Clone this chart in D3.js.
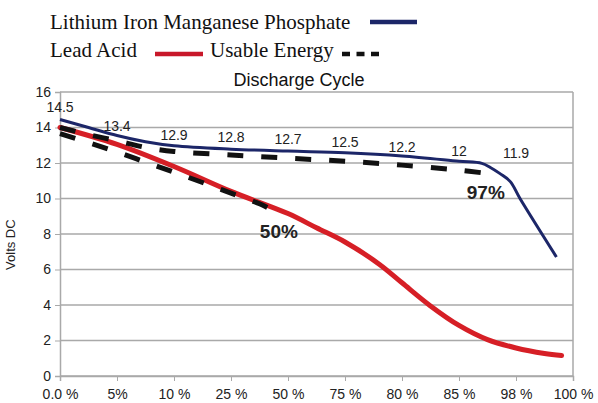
<!DOCTYPE html>
<html>
<head>
<meta charset="utf-8">
<script src="https://cdn.jsdelivr.net/npm/d3@7"></script>
<style>
  body { margin: 0; background: #fff; }
  text { font-family: Arial, "Liberation Sans", sans-serif; }
</style>
</head>
<body>
<div id="chart"></div>
<script>
// categories on the x axis (discharge %)
const xLabels = ["0.0 %", "5%", "10 %", "25 %", "50 %", "75 %", "80 %", "85 %", "98 %", "100 %"]
const yTicks = [0, 2, 4, 6, 8, 10, 12, 14, 16]

// [category index, volts]
const lithium = [[0,14.45],[0.5,14.0],[1,13.55],[1.5,13.2],[2,12.97],[3,12.78],[4,12.67],[5,12.58],[6,12.4],[7,12.1],[7.4,11.98],[7.55,11.75],[7.72,11.4],[7.9,10.95],[8.07,10.0],[8.71,6.7]]
const leadAcid = [[0,14.0],[1,13.05],[2,11.8],[3,10.4],[4,9.15],[4.5,8.35],[5,7.55],[5.6,6.3],[6,5.25],[6.5,3.95],[7,2.85],[7.5,2.05],[8,1.58],[8.5,1.27],[8.8,1.15]]
const usableLithium = [[0,14.0],[0.5,13.6],[1,13.25],[1.5,12.88],[2,12.65],[3,12.45],[4,12.27],[5,12.1],[6,11.88],[7,11.6],[7.52,11.4]]
const usableLead = [[0,13.65],[0.5,13.15],[1,12.62],[1.5,12.05],[2,11.48],[2.5,10.9],[3,10.3],[3.5,9.7],[3.85,9.15]]

// value labels over the lithium line
const pointLabels = [14.5, 13.4, 12.9, 12.8, 12.7, 12.5, 12.2, 12, 11.9]

// percent annotations: [index, volts, text]
const notes = [[3.84, 7.8, "50%"], [7.47, 10.0, "97%"]]

const margin = {top: 92, right: 25, bottom: 27, left: 60},
    width = 598 - margin.left - margin.right,
    height = 403 - margin.top - margin.bottom;

const root = d3.select("#chart")
  .append("svg")
    .attr("width", 598)
    .attr("height", 403)

const svg = root.append("g")
    .attr("transform", `translate(${margin.left},${margin.top})`);

const x = d3.scaleLinear()
  .domain([0, xLabels.length - 1])
  .range([0, width])

const y = d3.scaleLinear()
  .domain([0, 16])
  .range([height, 0])

// grid lines
svg.append("g")
  .selectAll("line")
  .data(yTicks)
  .join("line")
    .attr("x1", 0)
    .attr("x2", width)
    .attr("y1", d => y(d))
    .attr("y2", d => y(d))
    .attr("stroke", "#a9a9a9")
    .attr("stroke-width", 1.5)

// right border
svg.append("line")
  .attr("x1", width).attr("x2", width)
  .attr("y1", 0).attr("y2", height)
  .attr("stroke", "#a9a9a9")
  .attr("stroke-width", 1.5)

// Y axis
const yAxis = svg.append("g")
  .call(d3.axisLeft(y).tickValues(yTicks).tickSize(5).tickPadding(4))
yAxis.select(".domain").attr("stroke", "#a9a9a9").attr("stroke-width", 1.5)
yAxis.selectAll(".tick line").attr("stroke", "#a9a9a9")
yAxis.selectAll("text").style("font-size", "14px").attr("fill", "#222")

// X axis
const xAxis = svg.append("g")
  .attr("transform", `translate(0, ${height})`)
  .call(d3.axisBottom(x)
    .tickValues(d3.range(xLabels.length))
    .tickFormat(i => xLabels[i])
    .tickSize(5).tickPadding(8))
xAxis.select(".domain").attr("stroke", "#a9a9a9").attr("stroke-width", 1.5)
xAxis.selectAll(".tick line").attr("stroke", "#a9a9a9")
xAxis.selectAll("text").style("font-size", "14px").attr("fill", "#222")

// y label
root.append("text")
  .attr("transform", `translate(15, ${margin.top + y(7.4)}) rotate(-90)`)
  .style("text-anchor", "middle")
  .style("font-size", "13px")
  .attr("fill", "#222")
  .text("Volts DC")

// title
root.append("text")
  .attr("x", 299)
  .attr("y", 86)
  .style("text-anchor", "middle")
  .style("font-size", "18px")
  .attr("fill", "#111")
  .text("Discharge Cycle")

const line = d3.line()
  .x(d => x(d[0]))
  .y(d => y(d[1]))
  .curve(d3.curveCatmullRom.alpha(0.5))

svg.append("path")
  .datum(leadAcid)
  .attr("fill", "none")
  .attr("stroke", "#d61f26")
  .attr("stroke-width", 5)
  .attr("stroke-linecap", "round")
  .attr("d", line)

svg.append("path")
  .datum(lithium)
  .attr("fill", "none")
  .attr("stroke", "#1c2668")
  .attr("stroke-width", 3)
  .attr("d", line)

svg.selectAll(".usable")
  .data([usableLithium, usableLead])
  .join("path")
    .attr("class", "usable")
    .attr("fill", "none")
    .attr("stroke", "#111")
    .attr("stroke-width", 5)
    .attr("stroke-dasharray", "16,18")
    .attr("d", line)

// value labels
svg.selectAll(".vlabel")
  .data(pointLabels)
  .join("text")
    .attr("class", "vlabel")
    .attr("x", (d, i) => x(i))
    .attr("y", d => y(d) - 7)
    .style("text-anchor", "middle")
    .style("font-size", "14px")
    .attr("fill", "#222")
    .text(d => d)

svg.selectAll(".note")
  .data(notes)
  .join("text")
    .attr("class", "note")
    .attr("x", d => x(d[0]))
    .attr("y", d => y(d[1]))
    .style("text-anchor", "middle")
    .style("font-size", "19px")
    .style("font-weight", "bold")
    .attr("fill", "#222")
    .text(d => d[2])

// legend (serif, above the plot)
const legend = root.append("g")
  .style("font-size", "21px")

legend.append("text").attr("x", 50).attr("y", 29).attr("fill", "#111")
  .style("font-family", "'Liberation Serif', serif")
  .text("Lithium Iron Manganese Phosphate")
legend.append("line").attr("x1", 370).attr("x2", 417).attr("y1", 22).attr("y2", 22)
  .attr("stroke", "#1c2668").attr("stroke-width", 4.5)

legend.append("text").attr("x", 50).attr("y", 57).attr("fill", "#111")
  .style("font-family", "'Liberation Serif', serif")
  .text("Lead Acid")
legend.append("line").attr("x1", 155).attr("x2", 203).attr("y1", 54).attr("y2", 54)
  .attr("stroke", "#c8182a").attr("stroke-width", 4.5)

legend.append("text").attr("x", 210).attr("y", 57).attr("fill", "#111")
  .style("font-family", "'Liberation Serif', serif")
  .text("Usable Energy")
legend.append("line").attr("x1", 342).attr("x2", 384).attr("y1", 54).attr("y2", 54)
  .attr("stroke", "#111").attr("stroke-width", 4.5)
  .attr("stroke-dasharray", "8,6.5")
</script>
</body>
</html>
